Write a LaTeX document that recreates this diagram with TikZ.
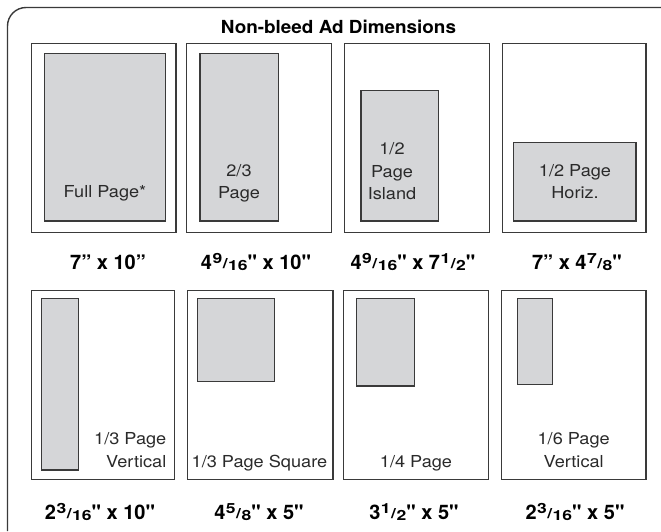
\documentclass[tikz,border=0pt]{standalone}
\usepackage{fontspec}
\setmainfont{TeX Gyre Heros}[Ligatures=TeXOff]
\newfontfamily\lblfont{TeX Gyre Heros}[Ligatures=TeXOff,FakeStretch=1.1]
\newfontfamily\ttlfont{TeX Gyre Heros}[Ligatures=TeXOff,FakeStretch=1.05]
\definecolor{frameg}{HTML}{3A3A3A}
\definecolor{adfill}{HTML}{D5D6D8}
\definecolor{txt}{HTML}{2A2A2A}
\newcommand{\smd}[1]{\scalebox{1.25}[1]{\fontsize{14}{14}\selectfont #1}}
\newcommand{\frc}[2]{\kern0.5pt\raisebox{5.8pt}{\smd{#1}}\kern0.5pt\raisebox{1pt}{\smd{/}}\kern0.5pt\raisebox{-0.8pt}{\smd{#2}}}
\begin{document}
\begin{tikzpicture}[x=1pt,y=-1pt,
  pagebox/.style={draw=frameg,line width=1.1pt,fill=white},
  adbox/.style={draw=frameg,line width=1.1pt,fill=adfill},
  lbl/.style={text=txt,font=\lblfont\fontsize{16.5}{22.5}\selectfont,align=center,inner sep=0pt},
  dim/.style={text=black,font=\bfseries\fontsize{20}{22}\selectfont,inner sep=0pt},
  ttl/.style={text=black,font=\ttlfont\bfseries\fontsize{18}{20}\selectfont,inner sep=0pt}]
\useasboundingbox (0,0) rectangle (661,531);
% outer frame
\draw[frameg,line width=1.4pt] (7.5,531) -- (7.5,26) arc[start angle=180,end angle=270,radius=18.5] -- (661,7.5);
\node[ttl,anchor=base] (title) at (338.5,33.5) {Non-bleed Ad Dimensions};
% top row page boxes
\draw[pagebox] (31.7,43.7) rectangle (176,232.7);
\draw[pagebox] (186.7,43.7) rectangle (331.7,232.7);
\draw[pagebox] (344.3,43.7) rectangle (489.3,232.7);
\draw[pagebox] (502.7,43.7) rectangle (646,232.7);
% top row ads
\draw[adbox] (44.7,53.3) rectangle (165.7,221);
\draw[adbox] (200,53.3) rectangle (278.3,221);
\draw[adbox] (361,90.7) rectangle (438.7,221);
\draw[adbox] (513.3,142.3) rectangle (636,221);
\node[lbl,anchor=base] (l1) at (105,197.5) {Full Page*};
\node[lbl,anchor=base] (l2) at (239,198.5) {2/3\\Page};
\node[lbl,anchor=base] (l3) at (392,199.5) {1/2\\Page\\Island};
\node[lbl,anchor=base] (l4) at (575,198.5) {1/2 Page\\Horiz.};
% top dims
\node[dim,anchor=base] (d1) at (108,269.3) {7” x 10”};
\node[dim,anchor=base] (d2) at (256,269.3) {4\frc{9}{16}" x 10"};
\node[dim,anchor=base] (d3) at (413,269.3) {4\frc{9}{16}" x 7\frc{1}{2}"};
\node[dim,anchor=base] (d4) at (577,269.3) {7” x 4\frc{7}{8}"};
% bottom row page boxes
\draw[pagebox] (31.7,290.7) rectangle (174.7,479.3);
\draw[pagebox] (187.7,290.7) rectangle (333,479.3);
\draw[pagebox] (343.3,290.7) rectangle (488.3,479.3);
\draw[pagebox] (501.7,290.7) rectangle (646,479.3);
% bottom ads
\draw[adbox] (41.7,298.3) rectangle (78.7,470);
\draw[adbox] (197.3,298.3) rectangle (274.3,381.7);
\draw[adbox] (356.7,298.3) rectangle (414.7,386);
\draw[adbox] (517.3,298.3) rectangle (552.7,384.3);
\node[lbl,anchor=base east,align=right] (l5) at (166.5,467) {1/3 Page\\Vertical};
\node[lbl,anchor=base] (l6) at (259.5,467) {1/3 Page Square};
\node[lbl,anchor=base] (l7) at (416,467) {1/4 Page};
\node[lbl,anchor=base] (l8) at (573.7,467) {1/6 Page\\Vertical};
% bottom dims
\node[dim,anchor=base] (d5) at (100,519.3) {2\frc{3}{16}" x 10"};
\node[dim,anchor=base] (d6) at (259,519.3) {4\frc{5}{8}" x 5"};
\node[dim,anchor=base] (d7) at (414,519.3) {3\frc{1}{2}" x 5"};
\node[dim,anchor=base] (d8) at (575,519.3) {2\frc{3}{16}" x 5"};
\end{tikzpicture}
\end{document}
